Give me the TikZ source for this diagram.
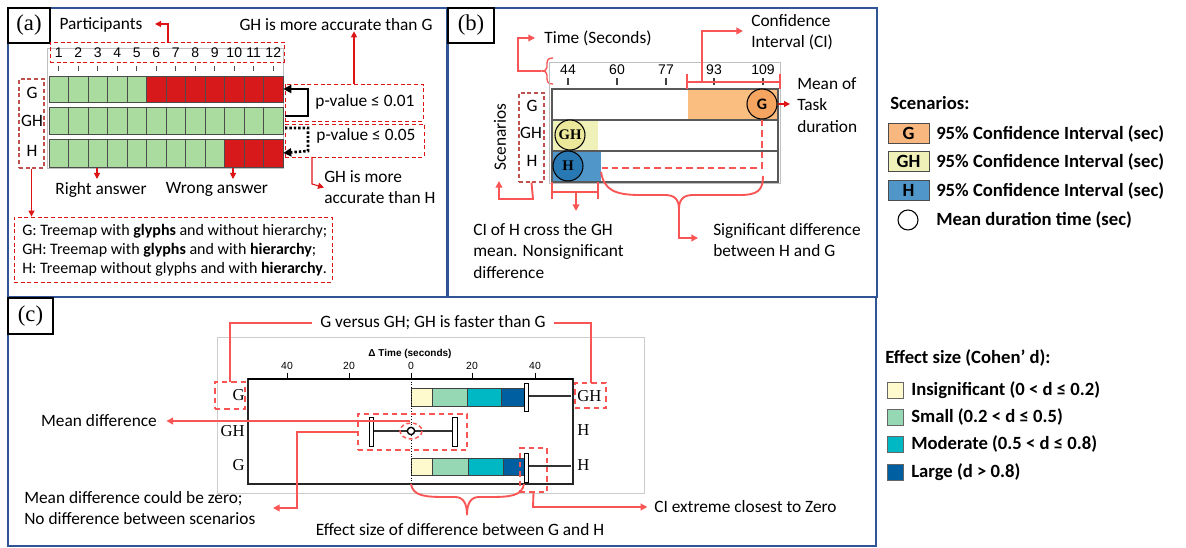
\documentclass[tikz,border=0pt]{standalone}
\usepackage{fontspec}
\setmainfont{Carlito}
\newfontfamily\tnr{Liberation Serif}
\newfontfamily\arial{Liberation Sans}
\usetikzlibrary{arrows.meta,fit,calc}
\definecolor{panelblue}{RGB}{47,85,151}
\definecolor{ared}{RGB}{222,20,20}
\definecolor{bred}{RGB}{250,85,85}
\definecolor{brownred}{RGB}{192,80,77}
\definecolor{cgreen}{RGB}{170,220,160}
\definecolor{cred}{RGB}{215,25,28}
\definecolor{orangeci}{RGB}{250,190,128}
\definecolor{orangemean}{RGB}{245,165,95}
\definecolor{yellowci}{RGB}{240,240,185}
\definecolor{yellowmean}{RGB}{236,232,155}
\definecolor{blueci}{RGB}{80,150,200}
\definecolor{bluemean}{RGB}{40,120,180}
\definecolor{einsig}{RGB}{255,250,205}
\definecolor{esmall}{RGB}{150,215,180}
\definecolor{emod}{RGB}{0,183,196}
\definecolor{elarge}{RGB}{0,95,160}
\begin{document}
\begin{tikzpicture}[x={(0.75pt,0pt)}, y={(0pt,-0.75pt)},
  txt/.style={inner sep=0pt, font=\fontsize{13}{15.75}\selectfont},
  lg/.style={inner sep=0pt, font=\bfseries\fontsize{14}{16}\selectfont},
  numa/.style={inner sep=0pt, font=\arial\fontsize{10.5}{11}\selectfont},
  numc/.style={inner sep=0pt, font=\arial\fontsize{7.8}{8}\selectfont},
  sl/.style={inner sep=0pt, font=\tnr\fontsize{12.5}{13}\selectfont},
  panel/.style={draw=panelblue, line width=1.6pt},
  tagbox/.style={draw=black, line width=2.2pt, fill=white},
  tagtxt/.style={inner sep=0pt, font=\tnr\fontsize{17}{17}\selectfont},
  arr/.style={draw=ared, line width=0.8pt, -{Triangle[length=4.5pt,width=4.5pt]}},
  rdash/.style={draw=ared, line width=0.6pt, dash pattern=on 3pt off 2pt},
  bdash/.style={draw=brownred, line width=0.8pt, dash pattern=on 3pt off 2pt},
  bl/.style={draw=bred, line width=1.4pt},
  barr/.style={bl, -{Triangle[length=5pt,width=5pt]}},
  bldash/.style={bl, dash pattern=on 5pt off 3pt},
  cell/.style={draw=black!70, line width=0.6pt},
  seg/.style={draw=black!75, line width=0.5pt},
  marker/.style={draw=black, line width=0.7pt, fill=white},
  mean/.style={circle, draw=black, line width=0.8pt, minimum size=22.5pt, inner sep=0pt},
  fitbox/.style={fit={#1}, inner sep=0pt}
]
\useasboundingbox[fill=white] (0,0) rectangle (1186,548);

% ---------- panels ----------
\draw[panel] (8,8) rectangle (447,297);
\draw[panel] (448,8) rectangle (877,297);
\draw[panel] (8,297) rectangle (876,546);

% ================= PANEL (a) =================
\draw[tagbox] (8,8) rectangle (50,43);
\node[tagtxt] (taga) at (29,25.5) {(a)};
\node[txt] (part) at (101,25) {Participants};
\node[txt] (gha) at (336,25) {GH is more accurate than G};
\draw[black!25] (47,48) rectangle (283,168);
\foreach \i in {1,...,12}{
  \pgfmathsetmacro\xc{58.75+(\i-1)*19.5}
  \node[numa] (n\i) at (\xc,53) {\i};
  \draw[black!70, line width=0.9pt] (\xc,66) -- (\xc,71);
}
\node[fitbox={(50,42)(284,62)}, rdash] (nums) {};
\draw[arr] (168,42) -- (168,24) -- (155,24);
\foreach \i in {1,...,12}{
  \pgfmathsetmacro\xa{49+(\i-1)*19.5}
  \pgfmathsetmacro\xb{\xa+19.5}
  \ifnum\i<6 \def\cc{cgreen}\else\def\cc{cred}\fi
  \draw[cell, fill=\cc] (\xa,76) rectangle (\xb,102);
  \draw[cell, fill=cgreen] (\xa,107) rectangle (\xb,134);
  \ifnum\i<10 \def\cc{cgreen}\else\def\cc{cred}\fi
  \draw[cell, fill=\cc] (\xa,139) rectangle (\xb,167);
}
\node[fitbox={(49,76)(283,102)}] (rowG) {};
\node[fitbox={(49,107)(283,134)}] (rowGH) {};
\node[fitbox={(49,139)(283,167)}] (rowH) {};
\node[txt] (lG) at (32,93) {G};
\node[txt] (lGH) at (32,121) {GH};
\node[txt] (lH) at (32,151) {H};
\node[fitbox={(19,79)(44,168)}, bdash] (lbls) {};
\node[fitbox={(14,217)(332,282)}, rdash] (defs) {};
\node[inner sep=0pt, align=left, anchor=west, font=\fontsize{12}{14.25}\selectfont] (deft) at (22,250)
  {G: Treemap with \textbf{glyphs} and without hierarchy;\\
   GH: Treemap with \textbf{glyphs} and with \textbf{hierarchy};\\
   H: Treemap without glyphs and with \textbf{hierarchy}.};
\draw[arr] (lbls.south) -- (defs.north -| lbls.south);
\node[txt] (right) at (101,190) {Right answer};
\node[txt] (wrong) at (217,189) {Wrong answer};
\draw[arr] (97,168) -- (97,179);
\draw[arr] (233,168) -- (233,179);
\node[fitbox={(285,84)(423,121)}, rdash] (pv1) {};
\node[txt] (pv1t) at (365,102) {p-value ≤ 0.01};
\node[fitbox={(285,124)(424,157)}, rdash] (pv2) {};
\node[txt] (pv2t) at (366,136) {p-value ≤ 0.05};
\draw[line width=2pt, -{Triangle[length=6pt,width=6pt]}] (285,116) -- (308,116) -- (308,89) -- (rowG.east);
\draw[line width=2pt, dash pattern=on 1.8pt off 1.5pt, -{Triangle[length=6pt,width=6pt]}] (285,128) -- (308,128) -- (308,151) -- (rowH.east);
\draw[arr] (pv1.north) -- (gha.south -| pv1.north);
\node[txt, align=left, anchor=west] (ghh) at (324,187.5) {GH is more\\accurate than H};
\draw[arr] (312,157) -- (312,184) -- (ghh.west);

% ================= PANEL (b) =================
\draw[tagbox] (448,8) rectangle (494,43);
\node[tagtxt] (tagb) at (471,25.5) {(b)};
\node[txt] (time) at (598,38) {Time (Seconds)};
\coordinate (btip) at (541,71);
\draw[bred, line width=1pt] (553,58) .. controls (548,58) and (547,60) .. (547,64) -- (547,67)
  .. controls (547,70) and (545,71) .. (btip) .. controls (545,71) and (547,72) .. (547,75)
  -- (547,78) .. controls (547,82) and (548,84) .. (553,84);
\draw[barr, line width=1pt] (btip) -- (518,71) -- (518,38) -- (535,38);
\draw[black!25] (549,62) rectangle (780,183);
\foreach \v/\xx in {44/568,60/617,77/666,93/714,109/763}{
  \node[numa] (t\v) at (\xx,70) {\v};
  \draw[black!75, line width=0.9pt] (\xx,78) -- (\xx,85);
}
\fill[orangeci] (688,89) rectangle (778,120);
\fill[yellowci] (552,120) rectangle (598,151);
\fill[blueci] (552,151) rectangle (601,182);
\draw[black!65, line width=1pt] (552,89) rectangle (778,182);
\draw[black!65, line width=1pt] (552,120) -- (778,120) (552,151) -- (778,151);
\node[mean, fill=orangemean, font=\bfseries\fontsize{12}{12}\selectfont] (mG) at (762,104) {G};
\node[mean, fill=yellowmean, font=\tnr\bfseries\fontsize{11}{11}\selectfont] (mGH) at (570,135) {GH};
\node[mean, fill=bluemean, font=\tnr\bfseries\fontsize{11}{11}\selectfont] (mH) at (568,166) {H};
% CI of G
\draw[bl] (687,74) -- (687,89) (780,74) -- (780,89) (687,82) -- (780,82);
\node[txt, align=left, anchor=west] (cit) at (751,32) {Confidence\\Interval (CI)};
\draw[barr] (702,82) -- (702,31) -- (743,31);
\node[txt, align=left, anchor=west, font=\fontsize{13}{16}\selectfont] (meant) at (797,105) {Mean of\\Task\\duration};
\draw[arr, line width=0.9pt] (mG.east) -- (790,104);
% scenarios
\node[txt, rotate=90] (scen) at (500,137) {Scenarios};
\node[txt] (bG) at (532,106) {G};
\node[txt] (bGH) at (531,133) {GH};
\node[txt] (bH) at (532,161) {H};
\node[fitbox={(519,93)(544,182)}, bdash] (blbls) {};
\draw[barr] (blbls.south) -- (533,199) -- (499,199) -- (499,181);
% CI of H
\draw[bl] (552,182) -- (552,199) (598,182) -- (598,199) (552,192) -- (598,192);
\node[txt, align=left, anchor=west, font=\fontsize{13}{16}\selectfont] (cih) at (473,251) {CI of H cross the GH\\mean. Nonsignificant\\difference};
\draw[barr] (576,192) -- (576,211);
% significant difference
\draw[bldash] (mG.south) -- (762,168) -- (602,168);
\coordinate (stip) at (679,209);
\draw[bl] (601,172) .. controls (604,190) and (615,195) .. (640,195) -- (665,195)
  .. controls (675,195) and (679,200) .. (stip) .. controls (679,200) and (683,195) .. (693,195)
  -- (740,195) .. controls (758,195) and (763,190) .. (763,176);
\node[txt, align=left, anchor=west, font=\fontsize{13}{16}\selectfont] (sigt) at (713,240) {Significant difference\\between H and G};
\draw[barr] (stip) -- (679,238) -- (698,238);

% ================= LEGEND scenarios =================
\node[lg, anchor=west] (scl) at (890,103) {Scenarios:};
\node[fitbox={(888,123)(929,143)}, draw=black!70, fill=orangemean!80] (swG) {};
\node[lg] at (swG.center) {G};
\node[fitbox={(888,151)(929,171)}, draw=black!70, fill=yellowci] (swGH) {};
\node[lg] at (swGH.center) {GH};
\node[fitbox={(888,180)(929,200)}, draw=black!70, fill=blueci] (swH) {};
\node[lg] at (swH.center) {H};
\node[lg, anchor=west] (lgG) at (936,134) {95\% Confidence Interval (sec)};
\node[lg, anchor=west] (lgGH) at (936,162) {95\% Confidence Interval (sec)};
\node[lg, anchor=west] (lgH) at (936,191) {95\% Confidence Interval (sec)};
\node[circle, draw=black, line width=0.8pt, minimum size=15pt, inner sep=0pt] (swM) at (908,220) {};
\node[lg, anchor=west] (lgM) at (936,220) {Mean duration time (sec)};

% ================= PANEL (c) =================
\draw[tagbox] (8,298) rectangle (53,334);
\node[tagtxt] (tagc) at (30.5,316) {(c)};
\draw[black!20] (217,337) rectangle (644,493);
\node[inner sep=0pt, font=\arial\bfseries\fontsize{7.5}{8}\selectfont] (dt) at (410,354) {Δ Time (seconds)};
\foreach \v/\xx/\nm in {40/287/a,20/349/b,0/411/c,20/472/d,40/535/e}{
  \node[numc] (c\nm) at (\xx,366) {\v};
  \draw[black, line width=0.7pt] (\xx,373) -- (\xx,379);
}
% rows
\draw[seg, fill=einsig] (411,388) rectangle (432,406);
\draw[seg, fill=esmall] (432,388) rectangle (467,406);
\draw[seg, fill=emod] (467,388) rectangle (501,406);
\draw[seg, fill=elarge] (501,388) rectangle (525,406);
\draw[black!80, line width=0.8pt] (528,396) -- (571,396);
\draw[marker] (524,383) rectangle (528,411);
\draw[seg, fill=einsig] (411,458) rectangle (432,475);
\draw[seg, fill=esmall] (432,458) rectangle (468,475);
\draw[seg, fill=emod] (468,458) rectangle (503,475);
\draw[seg, fill=elarge] (503,458) rectangle (525,475);
\draw[black!80, line width=0.8pt] (528,466) -- (571,466);
\draw[marker] (524,453) rectangle (528,482);
\draw[black!80, line width=0.8pt] (373,431) -- (452,431);
\draw[marker] (369,417) rectangle (373,446);
\draw[marker] (452,417) rectangle (457,446);
\draw[black, line width=0.6pt, dash pattern=on 0.8pt off 1.2pt] (411,379) -- (411,487);
\node[circle, draw=black, line width=1pt, fill=white, minimum size=5.5pt, inner sep=0pt] (md) at (411,431) {};
\draw[black!85, line width=0.8pt] (248,379) rectangle (573,484);
\draw[black, line width=1.6pt] (248,379) -- (573,379);
% labels
\node[sl, anchor=east] (cl1) at (245,395) {G};
\node[sl, anchor=east] (cl2) at (245,431) {GH};
\node[sl, anchor=east] (cl3) at (245,465) {G};
\node[sl, anchor=west] (cr1) at (577,396) {GH};
\node[sl, anchor=west] (cr2) at (577,430) {H};
\node[sl, anchor=west] (cr3) at (577,465) {H};
% annotations
\node[txt] (vs) at (433,323) {G versus GH; GH is faster than G};
\node[fitbox={(215,382)(245,409)}, draw=bred, line width=1.2pt, dash pattern=on 4pt off 3pt] (bxG) {};
\node[fitbox={(575,383)(606,408)}, draw=bred, line width=1.2pt, dash pattern=on 4pt off 3pt] (bxGH) {};
\node[fitbox={(358,414)(467,450)}, draw=bred, line width=1.2pt, dash pattern=on 4pt off 3pt] (bxR2) {};
\node[fitbox={(520,448)(547,492)}, draw=bred, line width=1.2pt, dash pattern=on 4pt off 3pt] (bxCI) {};
\draw[bred, line width=1.1pt, dash pattern=on 3pt off 2pt] (md.center) ellipse [x radius=11, y radius=8];
\draw[bl] ([xshift=-6pt]vs.west) -- (230,323) -- (230,382);
\draw[bl] ([xshift=6pt]vs.east) -- (591,323) -- (591,383);
\node[txt] (mdt) at (99,421) {Mean difference};
\draw[barr] (410,421) -- ([xshift=7pt]mdt.east);
\node[txt, align=left, anchor=west, font=\fontsize{13}{15.75}\selectfont] (zero) at (24,508.5) {Mean difference could be zero;\\No difference between scenarios};
\draw[barr] (bxR2.west) -- (297,432) -- (297,508) -- (273,508);
\node[txt, anchor=west] (cix) at (654,507) {CI extreme closest to Zero};
\draw[barr] (bxCI.south) -- (533,507) -- ([xshift=-5pt]cix.west);
\coordinate (etip) at (467,515);
\draw[bl] (411,484) .. controls (413,496) and (425,497) .. (445,497) -- (455,497)
  .. controls (463,497) and (467,503) .. (etip) .. controls (467,503) and (471,497) .. (479,497)
  -- (490,497) .. controls (510,497) and (522,496) .. (524,484);
\node[txt] (eff) at (460,530) {Effect size of difference between G and H};

% ================= LEGEND effect size =================
\node[lg, anchor=west] (efl) at (885,358) {Effect size (Cohen’ d):};
\node[fitbox={(887,382)(903,398)}, draw=black!60, line width=0.6pt, fill=einsig] (swi) {};
\node[lg, anchor=west] (lti) at (911,390) {Insignificant (0 < d ≤ 0.2)};
\node[fitbox={(887,409)(903,425)}, draw=black!60, line width=0.6pt, fill=esmall] (sws) {};
\node[lg, anchor=west] (lts) at (911,417) {Small (0.2 < d ≤ 0.5)};
\node[fitbox={(887,436)(903,452)}, draw=black!60, line width=0.6pt, fill=emod] (swm) {};
\node[lg, anchor=west] (ltm) at (911,444) {Moderate (0.5 < d ≤ 0.8)};
\node[fitbox={(887,464)(903,480)}, draw=black!60, line width=0.6pt, fill=elarge] (swl) {};
\node[lg, anchor=west] (ltl) at (911,472) {Large (d > 0.8)};
\end{tikzpicture}
\end{document}
